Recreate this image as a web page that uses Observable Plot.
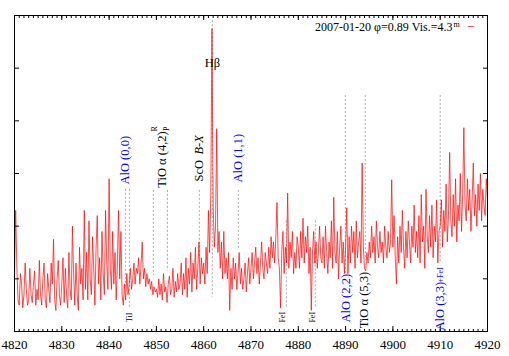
<!DOCTYPE html>
<html><head><meta charset="utf-8">
<script src="https://cdn.jsdelivr.net/npm/d3@7"></script>
<script src="https://cdn.jsdelivr.net/npm/@observablehq/plot@0.6"></script>
<style>body{margin:0;background:#fff}#chart{width:509px;height:356px}</style>
</head><body><div id="chart"></div>
<script>
// Spectrum sampled every 0.25 Å from 4820 Å
const wlStart = 4820, wlStep = 0.25;
const flux = [
 1.0,2.3,1.2,0.6,0.5,1.1,0.9,0.45,0.7,1.3,0.8,0.5,0.6,1.2,0.7,0.55,0.9,1.15,0.5,0.8,
 0.6,1.35,0.7,0.5,1.0,1.3,0.6,0.45,1.1,0.8,0.55,1.3,0.9,1.75,0.6,0.4,1.0,1.35,0.7,0.5,
 0.9,1.4,0.55,1.2,0.7,0.45,1.5,0.8,0.6,2.0,1.1,0.5,1.3,0.7,0.4,1.6,0.9,1.2,0.6,2.3,
 0.8,1.5,0.6,2.1,1.0,0.7,1.8,1.2,0.5,1.6,2.2,0.9,1.4,0.6,1.9,1.1,0.7,2.3,1.3,0.8,
 2.9,1.2,0.8,1.9,0.9,1.5,0.6,1.3,2.3,1.0,1.9,0.7,0.5,0.9,0.6,1.1,0.7,0.9,1.2,0.8,
 1.0,1.3,0.9,1.2,1.1,1.4,0.9,1.25,1.7,1.0,1.2,0.85,1.1,0.9,1.0,0.8,0.95,0.7,0.85,0.75,
 0.8,0.65,1.0,0.7,0.9,0.6,1.1,0.75,0.85,0.55,0.9,1.05,0.7,0.8,1.2,0.65,0.95,0.75,1.1,0.8,
 0.9,1.3,0.7,1.1,0.8,1.4,0.65,1.2,0.9,1.5,0.75,1.3,1.0,1.6,0.8,1.2,1.7,0.9,1.4,1.1,
 1.3,0.9,1.6,1.1,2.3,1.5,2.6,5.75,2.4,1.6,2.0,3.85,1.5,1.9,1.2,1.7,1.0,1.9,1.1,1.4,
 1.0,1.5,0.4,1.2,0.8,1.4,1.0,1.3,0.8,1.1,1.5,0.9,1.2,0.8,1.0,1.3,0.75,1.1,1.4,0.9,
 1.2,1.5,1.0,1.3,1.6,1.1,1.4,0.9,1.3,1.7,1.2,1.0,1.5,1.3,1.1,1.6,1.2,1.8,1.4,1.7,
 1.3,1.8,2.45,1.4,1.2,0.45,1.5,1.9,1.1,1.6,1.3,2.63,1.2,1.7,1.4,1.9,1.1,1.5,1.2,1.8,
 1.6,1.2,1.9,1.4,2.15,1.3,1.8,1.5,2.0,1.1,1.6,0.4,1.5,1.9,1.3,1.7,1.2,1.5,2.0,1.4,
 1.3,1.8,1.2,2.0,1.5,1.1,1.7,1.4,2.1,1.2,2.55,1.5,1.3,1.9,1.0,1.6,2.0,1.3,1.7,1.1,
 1.6,2.35,1.1,1.8,1.3,2.0,1.5,1.9,1.2,2.1,1.4,1.7,1.9,1.3,3.2,1.6,1.2,1.15,1.5,1.3,
 1.7,1.4,2.0,1.5,1.8,1.3,2.1,1.6,1.4,1.9,1.5,1.7,1.3,2.0,1.6,1.4,1.9,1.5,1.7,2.88,
 1.6,2.2,1.4,0.9,1.8,1.3,2.0,1.5,2.3,1.6,1.2,1.9,1.4,2.1,1.7,1.3,2.0,1.6,2.4,1.5,
 1.9,1.4,2.2,1.3,2.6,1.7,2.0,1.2,2.7,1.8,1.5,2.2,1.6,2.4,1.4,2.0,1.7,2.5,1.3,1.9,
 2.0,2.5,1.6,2.3,1.9,2.8,1.7,2.2,3.4,2.1,1.8,2.6,2.0,2.9,1.7,2.4,2.1,3.0,1.9,2.6,
 3.87,2.4,2.1,2.9,2.3,2.7,1.9,2.5,3.2,2.2,2.6,2.0,2.8,2.3,3.0,2.1,2.7,2.4,2.2,2.9,2.5
];

// Axis ticks
const xMajor = [4820,4830,4840,4850,4860,4870,4880,4890,4900,4910,4920];
const xMinor = d3.range(4820, 4921, 1);
const yTicks = [1,2,3,4,5];

// Dashed marker lines (wavelength, top, bottom)
const markWl  = [4843.45,4844.3,4849.37,4852.33,4859.09,4861.83,4867.33,4877.47,4883.6,4889.93,4894.16,4910.0];
const markTop = [2.7,2.7,2.68,2.68,2.68,5.9,2.68,2.1,2.1,4.48,4.48,4.48];
const markBot = [0.8,0.46,1.06,1.2,1.4,0.65,1.54,0.46,0.46,1.1,1.35,1.3];

// Rotated band labels
const bandText  = ["AlO (0,0)","TiO α (4,2)","ScO","AlO (1,1)","AlO (2,2)","TiO α (5,3)","AlO (3,3)"];
const bandWl    = [4843.4,4851.27,4858.98,4867.33,4890.04,4893.95,4910.0];
const bandStart = [2.79,2.73,2.85,2.83,0.17,0.06,0.02];
const bandColor = ["blue","black","black","blue","blue","black","blue"];

// Small rotated labels (atomic lines, branch marks)
const smallText  = ["TiI","FeI","FeI","R","P"];
const smallWl    = [4844.3,4876.62,4882.96,4849.58,4852.11];
const smallY     = [0.27,0.27,0.27,3.85,3.85];

const legendLabel = "2007-01-20 φ=0.89 Vis.=4.3";

const spectrum = flux.map((f, i) => ({wl: wlStart + i * wlStep, f}));
const marks = markWl.map((wl, i) => ({wl, y1: markTop[i], y2: markBot[i]}));
const bands = bandText.map((t, i) => ({t, wl: bandWl[i], y: bandStart[i], c: bandColor[i]}));
const smalls = smallText.map((t, i) => ({t, wl: smallWl[i], y: smallY[i]}));

const chart = Plot.plot({
  width: 509, height: 356,
  marginLeft: 14, marginRight: 22, marginTop: 15, marginBottom: 25,
  x: {domain: [4820, 4920], label: null},
  y: {domain: [0, 6], label: null},
  style: {fontFamily: "Liberation Serif", background: "white", color: "black"},
  marks: [
    Plot.ruleX(marks, {x: "wl", y1: "y1", y2: "y2", stroke: "#aaa", strokeDasharray: "2,2", strokeWidth: 1}),
    Plot.line(spectrum, {x: "wl", y: "f", stroke: "#ff0000", strokeWidth: 0.7}),
    Plot.frame({stroke: "black"}),
    Plot.axisX({ticks: xMinor, anchor: "bottom", tickSize: -2, tickFormat: () => "", label: null}),
    Plot.axisX({ticks: xMinor, anchor: "top", tickSize: -2, tickFormat: () => "", label: null}),
    Plot.axisX({ticks: xMajor, anchor: "bottom", tickSize: -5, tickFormat: () => "", label: null}),
    Plot.axisX({ticks: xMajor, anchor: "top", tickSize: -4, tickFormat: () => "", label: null}),
    Plot.axisX({ticks: xMajor, anchor: "bottom", tickSize: 0, tickPadding: 8, fontSize: 13, tickFormat: d => String(d), label: null}),
    Plot.axisY({ticks: yTicks, anchor: "left", tickSize: -5, tickFormat: () => "", label: null}),
    Plot.axisY({ticks: yTicks, anchor: "right", tickSize: -5, tickFormat: () => "", label: null}),
    Plot.text(bands, {x: "wl", y: "y", text: "t", fill: "c", rotate: -90, textAnchor: "start", fontSize: 12.5}),
    Plot.text(["B-X"], {x: [4858.98], y: [3.36], text: d => d, rotate: -90, textAnchor: "start", fontSize: 12.5, fontStyle: "italic"}),
    Plot.text(["+FeI"], {x: [4910.0], y: [0.93], text: d => d, rotate: -90, textAnchor: "start", fontSize: 8, fill: "blue"}),
    Plot.text(smalls, {x: "wl", y: "y", text: "t", rotate: -90, textAnchor: "middle", fontSize: 8}),
    Plot.text(["Hβ"], {x: [4861.83], y: [5.1], text: d => d, fontSize: 12.5}),
    Plot.text([legendLabel], {frameAnchor: "top-right", text: d => d, textAnchor: "end", lineAnchor: "bottom", dx: -35, dy: 15, fontSize: 12}),
    Plot.text(["m"], {frameAnchor: "top-right", text: d => d, textAnchor: "start", lineAnchor: "bottom", dx: -34, dy: 11, fontSize: 8}),
    Plot.text(["–"], {frameAnchor: "top-right", text: d => d, textAnchor: "middle", lineAnchor: "bottom", dx: -16.5, dy: 13, fontSize: 12, fill: "#ff0000"})
  ]
});
document.getElementById("chart").appendChild(chart);
</script>
</body></html>
